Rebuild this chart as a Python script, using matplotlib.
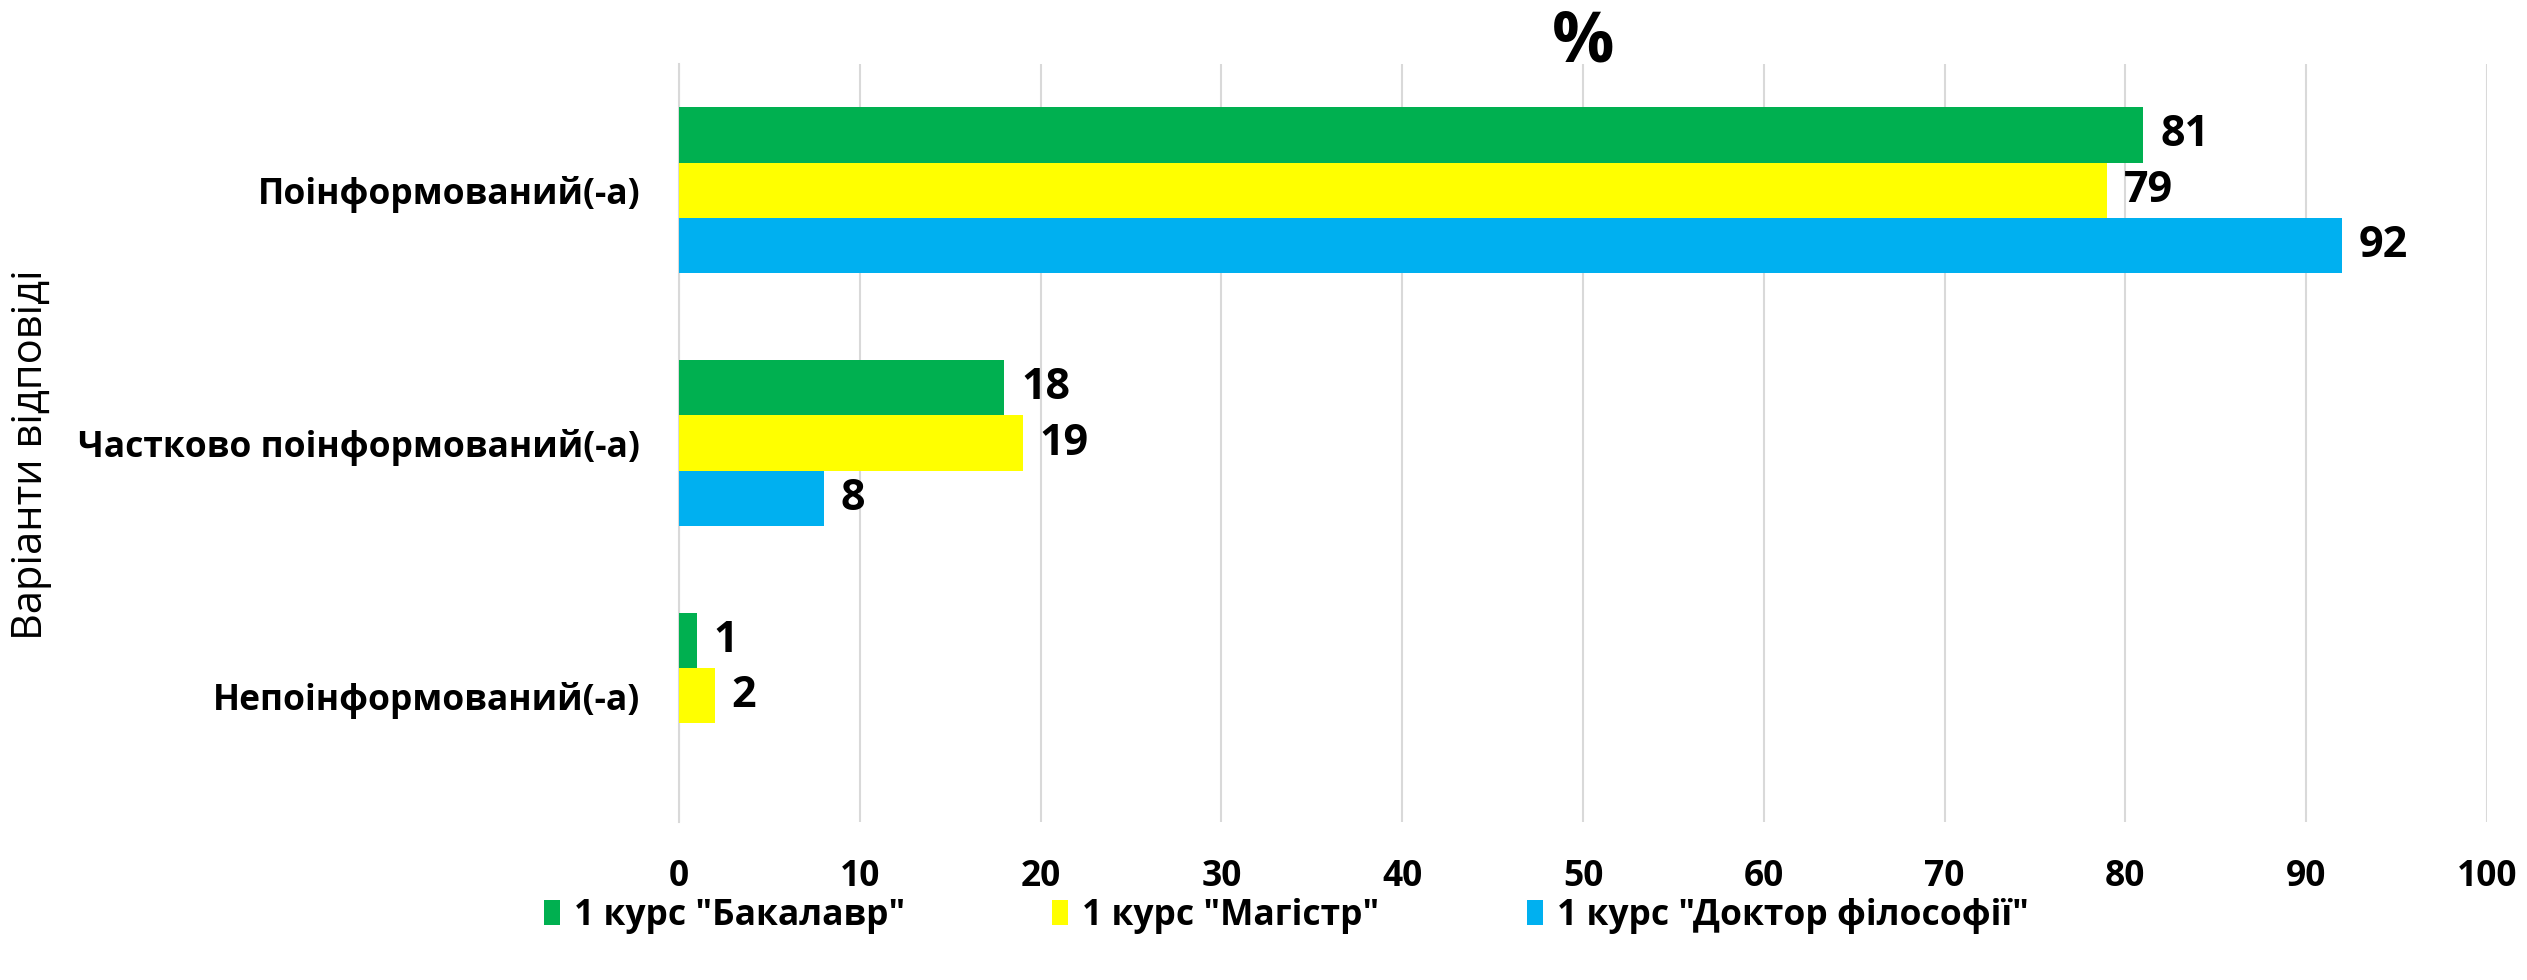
import numpy as np
import matplotlib
matplotlib.use('Agg')
import matplotlib.pyplot as plt

categories = ['Поінформований(-а)', 'Частково поінформований(-а)', 'Непоінформований(-а)']
series_names = ['1 курс "Бакалавр"', '1 курс "Магістр"', '1 курс "Доктор філософії"']
bachelor = [81, 18, 1]
master = [79, 19, 2]
phd = [92, 8, 0]
colors = ['#00B050', '#FFFF00', '#00B0F0']
x_ticks = list(range(0, 101, 10))

bold_font = ['Open Sans', 'DejaVu Sans']

fig = plt.figure(figsize=(25.27, 9.8), dpi=100)
ax = fig.add_axes([679 / 2527, 1 - 822 / 980, (2487 - 679) / 2527, (822 - 64) / 980])

ypos = np.arange(len(categories))[::-1].astype(float)
h = 0.219
offsets = [h, 0.0, -h]
values = [bachelor, master, phd]

for vals, off, col, name in zip(values, offsets, colors, series_names):
    bars = ax.barh(ypos + off, vals, height=h, color=col, label=name, zorder=3)
    for b, v in zip(bars, vals):
        if v == 0:
            continue
        ax.annotate(str(v), (b.get_width(), b.get_y() + b.get_height() / 2),
                    xytext=(12, 0), textcoords='offset points', ha='left', va='center',
                    fontsize=31, fontweight='bold', family=bold_font)

ax.set_xlim(0, 100)
ax.set_ylim(-0.5, 2.5)
ax.set_xticks(x_ticks)
ax.set_yticks(ypos)
ax.set_yticklabels(categories)
for lbl in ax.get_xticklabels() + ax.get_yticklabels():
    lbl.set_family(bold_font)
    lbl.set_fontweight('bold')
    lbl.set_fontsize(25.5)
ax.tick_params(axis='both', length=0)
ax.tick_params(axis='y', pad=28)
ax.tick_params(axis='x', pad=27)
ax.grid(axis='x', color='#D9D9D9', linewidth=1.5, zorder=0)
for s in ['top', 'right', 'bottom']:
    ax.spines[s].set_visible(False)
ax.spines['left'].set_color('#D9D9D9')
ax.spines['left'].set_linewidth(1.5)

# title "%" placed by its baseline just above the plot area
fig.text((679 + 2487) / 2 / 2527, 1 - 62 / 980, '%', ha='center', va='baseline',
         fontsize=50, fontweight='bold', family=bold_font)
fig.text(0.004, 1 - 455 / 980, 'Варіанти відповіді', rotation=90, va='center', ha='left',
         fontsize=30, family=['Open Sans', 'DejaVu Sans'])

leg = fig.legend(loc='center', bbox_to_anchor=(0.509, 1 - 916 / 980), ncol=3, frameon=False,
                 prop={'family': bold_font, 'weight': 'bold', 'size': 25.5},
                 handlelength=0.45, handleheight=0.7, handletextpad=0.4, columnspacing=4.15)

fig.savefig('out.png', dpi=100)
